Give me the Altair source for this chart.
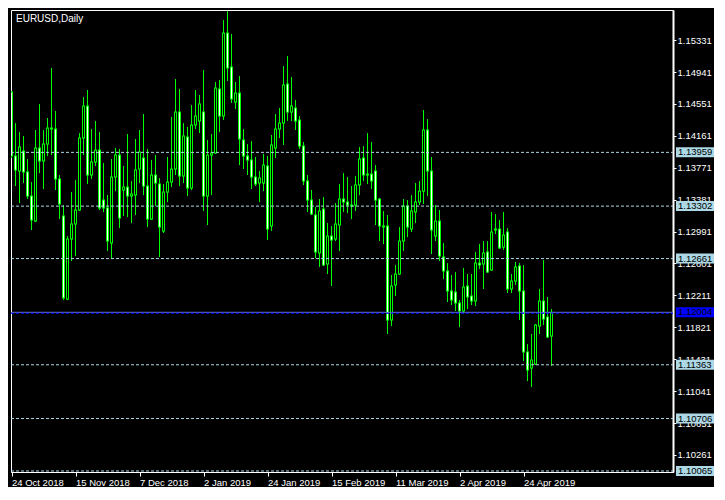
import altair as alt
import pandas as pd

# ---- data (EURUSD daily candles) ----
opens = [
    1.14696, 1.13914, 1.13731, 1.13975, 1.13719, 1.13425, 1.13120, 1.14012, 1.13853, 1.14061,
    1.14256, 1.14244, 1.13633, 1.13181, 1.12166, 1.12900, 1.13083, 1.13254, 1.14134, 1.14525,
    1.13682, 1.13841, 1.13987, 1.13376, 1.13279, 1.12851, 1.13657, 1.13926, 1.13499, 1.13535,
    1.13425, 1.13437, 1.13755, 1.13890, 1.13547, 1.13144, 1.13682, 1.13572, 1.12997, 1.13474,
    1.13596, 1.13755, 1.14452, 1.13670, 1.14146, 1.13523, 1.14293, 1.14342, 1.14452, 1.13425,
    1.13926, 1.13951, 1.14733, 1.14403, 1.15417, 1.15002, 1.14574, 1.14684, 1.14110, 1.13914,
    1.13865, 1.13657, 1.13584, 1.13584, 1.13792, 1.13059, 1.14012, 1.14244, 1.14317, 1.14794,
    1.14452, 1.14501, 1.14354, 1.14036, 1.13609, 1.13376, 1.13193, 1.12729, 1.13266, 1.12594,
    1.12936, 1.12900, 1.13071, 1.13389, 1.13352, 1.13315, 1.13315, 1.13560, 1.13890, 1.13682,
    1.13694, 1.13731, 1.13389, 1.13059, 1.13059, 1.11910, 1.12338, 1.12472, 1.12875, 1.13303,
    1.13022, 1.13230, 1.13352, 1.13486, 1.14232, 1.13731, 1.12936, 1.13120, 1.12680, 1.12509,
    1.12264, 1.12252, 1.12118, 1.12020, 1.12325, 1.12203, 1.12142, 1.12606, 1.12594, 1.12741,
    1.12521, 1.13010, 1.13022, 1.12802, 1.12985, 1.12289, 1.12386, 1.12570, 1.12264, 1.11519,
    1.11323, 1.11372, 1.11836, 1.12142, 1.11946, 1.11714,
]
highs = [
    1.14709, 1.14317, 1.14207, 1.14159, 1.13877, 1.13596, 1.14232, 1.14550, 1.14232, 1.14379,
    1.14990, 1.14464, 1.13682, 1.13315, 1.12936, 1.13474, 1.13621, 1.14195, 1.14635, 1.14721,
    1.14244, 1.14342, 1.14207, 1.13829, 1.13437, 1.13877, 1.14012, 1.14000, 1.13792, 1.14183,
    1.13609, 1.14122, 1.14232, 1.14427, 1.14000, 1.13865, 1.13926, 1.13645, 1.13572, 1.13902,
    1.14391, 1.14855, 1.14733, 1.14317, 1.14269, 1.14537, 1.14721, 1.14660, 1.14965, 1.14110,
    1.14183, 1.14819, 1.14843, 1.15576, 1.15686, 1.15405, 1.14819, 1.14892, 1.14244, 1.14061,
    1.14097, 1.13902, 1.13731, 1.13939, 1.13914, 1.14171, 1.14427, 1.14501, 1.15014, 1.15136,
    1.14880, 1.14599, 1.14403, 1.14085, 1.13682, 1.13499, 1.13291, 1.13389, 1.13413, 1.13095,
    1.13059, 1.13340, 1.13572, 1.13706, 1.13657, 1.13547, 1.13670, 1.14024, 1.14036, 1.14195,
    1.14085, 1.13804, 1.13401, 1.13242, 1.13193, 1.12460, 1.12582, 1.13046, 1.13389, 1.13376,
    1.13437, 1.13584, 1.13609, 1.14476, 1.14366, 1.13902, 1.13315, 1.13254, 1.12851, 1.12606,
    1.12460, 1.12496, 1.12154, 1.12545, 1.12472, 1.12472, 1.12741, 1.12839, 1.12875, 1.12875,
    1.13230, 1.13205, 1.13132, 1.13230, 1.13034, 1.12472, 1.12619, 1.12606, 1.12582, 1.11616,
    1.11739, 1.11861, 1.12289, 1.12643, 1.12191, 1.12044,
]
lows = [
    1.13890, 1.13547, 1.13340, 1.13584, 1.13389, 1.13010, 1.13107, 1.13706, 1.13511, 1.13914,
    1.13926, 1.13499, 1.13144, 1.12154, 1.12154, 1.12631, 1.12692, 1.13242, 1.13926, 1.13572,
    1.13633, 1.13792, 1.13254, 1.13230, 1.12753, 1.12655, 1.13486, 1.13034, 1.13181, 1.13169,
    1.13095, 1.13193, 1.13584, 1.13437, 1.13046, 1.13132, 1.13303, 1.12680, 1.12973, 1.13352,
    1.13535, 1.13682, 1.13547, 1.13584, 1.13425, 1.13499, 1.14244, 1.14195, 1.13242, 1.13071,
    1.13437, 1.13939, 1.14207, 1.14354, 1.14831, 1.14562, 1.14489, 1.13804, 1.13755, 1.13682,
    1.13511, 1.13547, 1.13352, 1.13486, 1.12887, 1.12997, 1.13890, 1.14134, 1.14049, 1.14342,
    1.14342, 1.14232, 1.14000, 1.13560, 1.13230, 1.13193, 1.12667, 1.12558, 1.12570, 1.12472,
    1.12325, 1.12875, 1.12753, 1.13230, 1.13217, 1.13144, 1.13242, 1.13437, 1.13609, 1.13572,
    1.13511, 1.13071, 1.12875, 1.12839, 1.11739, 1.11836, 1.12203, 1.12460, 1.12753, 1.12924,
    1.12985, 1.13095, 1.13315, 1.13327, 1.13425, 1.12716, 1.12875, 1.12631, 1.12411, 1.12130,
    1.12093, 1.12020, 1.11824, 1.11983, 1.12044, 1.12093, 1.12081, 1.12533, 1.12289, 1.12484,
    1.12509, 1.12961, 1.12777, 1.12765, 1.12240, 1.12240, 1.12338, 1.11910, 1.11409, 1.11164,
    1.11091, 1.11360, 1.11739, 1.11849, 1.11690, 1.11348,
]
closes = [
    1.13914, 1.13743, 1.14024, 1.13719, 1.13425, 1.13132, 1.14012, 1.13853, 1.14061, 1.14256,
    1.14244, 1.13633, 1.13327, 1.12179, 1.12900, 1.13083, 1.13254, 1.14134, 1.14525, 1.13682,
    1.13841, 1.13987, 1.13279, 1.13279, 1.12875, 1.13657, 1.13926, 1.13156, 1.13535, 1.13425,
    1.13450, 1.13743, 1.13963, 1.13547, 1.13144, 1.13682, 1.13584, 1.13046, 1.13474, 1.13596,
    1.13755, 1.14452, 1.13670, 1.14159, 1.13523, 1.14293, 1.14403, 1.14550, 1.13425, 1.13926,
    1.13951, 1.14745, 1.14403, 1.15417, 1.14990, 1.14611, 1.14684, 1.14122, 1.13914, 1.13865,
    1.13657, 1.13572, 1.13645, 1.13804, 1.13022, 1.14049, 1.14244, 1.14317, 1.14782, 1.14452,
    1.14525, 1.14342, 1.14036, 1.13609, 1.13376, 1.13205, 1.12741, 1.13242, 1.12582, 1.12936,
    1.12887, 1.13083, 1.13389, 1.13352, 1.13315, 1.13303, 1.13560, 1.13877, 1.13682, 1.13694,
    1.13609, 1.13376, 1.13059, 1.13046, 1.11910, 1.12325, 1.12472, 1.12875, 1.13303, 1.13046,
    1.13242, 1.13352, 1.13486, 1.14232, 1.13731, 1.13010, 1.13120, 1.12692, 1.12509, 1.12264,
    1.12154, 1.12118, 1.12020, 1.12313, 1.12191, 1.12142, 1.12606, 1.12582, 1.12729, 1.12496,
    1.12985, 1.13022, 1.12790, 1.12949, 1.12289, 1.12386, 1.12558, 1.12264, 1.11519, 1.11299,
    1.11421, 1.11849, 1.12142, 1.11922, 1.11702, 1.12004,
]

date_tick_bars = [0, 16, 32, 48, 64, 80, 96, 112, 128]
date_tick_labels = ["24 Oct 2018", "15 Nov 2018", "7 Dec 2018", "2 Jan 2019", "24 Jan 2019",
                    "15 Feb 2019", "11 Mar 2019", "2 Apr 2019", "24 Apr 2019"]
price_ticks = [1.15331, 1.14941, 1.14551, 1.14161, 1.13771, 1.13381, 1.12991, 1.12601,
               1.12211, 1.11821, 1.11431, 1.11041, 1.10651, 1.10261]
level_prices = [1.13959, 1.13302, 1.12661, 1.11363, 1.10706, 1.10065]
bid_price = [1.12004]
chart_title = ["EURUSD,Daily"]

# ---- layout ----
W, H = 662, 462
PX_PER_UNIT = 8182.0
Y_TOP = 1.15699
FONT = "Liberation Sans"
GREEN = "#00FF00"
LIGHT = "#ADD8E6"

n = len(opens)
df = pd.DataFrame({"bar": list(range(n)), "open": opens, "high": highs,
                   "low": lows, "close": closes})

xs = alt.Scale(domain=[-0.125, W / 4.0 - 0.125], nice=False, zero=False, padding=0)
ys = alt.Scale(domain=[Y_TOP - H / PX_PER_UNIT, Y_TOP], nice=False, zero=False, padding=0)

label_expr = " : ".join(
    f"datum.value == {b} ? '{t}'" for b, t in zip(date_tick_bars, date_tick_labels)
) + " : ''"

x_axis = alt.Axis(orient="bottom", values=date_tick_bars, labelExpr=label_expr,
                  labelAlign="left", labelBaseline="top", tickSize=4, labelPadding=1,
                  labelFlush=False, labelOverlap=False, title="", grid=False)
y_axis = alt.Axis(orient="right", values=price_ticks, format=".5f", tickSize=3,
                  labelPadding=1, labelFlush=False, labelOverlap=False, title="",
                  grid=False, domainWidth=2)


def X(field):
    return alt.X(field, scale=xs, axis=x_axis)


def Y(field):
    return alt.Y(field, scale=ys, axis=y_axis)


base = alt.Chart(df).transform_calculate(
    top="max(datum.open, datum.close)",
    bottom="min(datum.open, datum.close)",
)

wicks = base.mark_rule(color=GREEN, strokeWidth=1, clip=True).encode(
    x=X("bar:Q"), y=Y("low:Q"), y2="high:Q",
)

# body outline: a 3px green stroke one pixel taller than the body
body_outer = base.mark_rule(color=GREEN, strokeWidth=3, strokeCap="butt", clip=True,
                            yOffset=-0.5, y2Offset=0.5).encode(
    x=X("bar:Q"), y=Y("top:Q"), y2="bottom:Q",
)
# body interior: white for falling days, black for rising days
inner_bear = base.transform_filter(
    f"datum.close < datum.open && (datum.open - datum.close) * {PX_PER_UNIT} > 1.5"
).mark_rule(color="#FFFFFF", strokeWidth=1, strokeCap="butt", clip=True,
            yOffset=0.5, y2Offset=-0.5).encode(
    x=X("bar:Q"), y=Y("top:Q"), y2="bottom:Q",
)
inner_bull = base.transform_filter(
    f"datum.close > datum.open && (datum.close - datum.open) * {PX_PER_UNIT} > 1.5"
).mark_rule(color="#000000", strokeWidth=1, strokeCap="butt", clip=True,
            yOffset=0.5, y2Offset=-0.5).encode(
    x=X("bar:Q"), y=Y("top:Q"), y2="bottom:Q",
)

lv = pd.DataFrame({"level": level_prices})
levels = alt.Chart(lv).mark_rule(color=LIGHT, strokeWidth=1, strokeDash=[3, 2]).encode(
    y=Y("level:Q"), x=alt.value(0), x2=alt.value(W),
)
level_boxes = alt.Chart(lv).mark_rect(color=LIGHT, yOffset=-5, y2Offset=5).encode(
    y=Y("level:Q"), y2="level:Q", x=alt.value(W + 3), x2=alt.value(W + 41),
)
level_text = alt.Chart(lv).mark_text(align="left", baseline="middle", font=FONT,
                                     fontSize=9.5, color="black").encode(
    y=Y("level:Q"), x=alt.value(W + 5), text=alt.Text("level:Q", format=".5f"),
)

bd = pd.DataFrame({"bid": bid_price})
bid_line = alt.Chart(bd).mark_rule(color="#6070E0", strokeWidth=1).encode(
    y=Y("bid:Q"), x=alt.value(0), x2=alt.value(W),
)
bid_dash = alt.Chart(bd).mark_rule(color="#0000FF", strokeWidth=1, strokeDash=[3, 2],
                                   yOffset=1).encode(
    y=Y("bid:Q"), x=alt.value(0), x2=alt.value(W),
)
bid_box = alt.Chart(bd).mark_rect(color="#0000FF", yOffset=-5, y2Offset=5).encode(
    y=Y("bid:Q"), y2="bid:Q", x=alt.value(W + 3), x2=alt.value(W + 41),
)
bid_text = alt.Chart(bd).mark_text(align="left", baseline="middle", font=FONT,
                                   fontSize=9.5, color="black").encode(
    y=Y("bid:Q"), x=alt.value(W + 5), text=alt.Text("bid:Q", format=".5f"),
)

title = alt.Chart(pd.DataFrame({"t": chart_title})).mark_text(
    align="left", baseline="middle", font=FONT, fontSize=10, color="white").encode(
    text="t:N", x=alt.value(5), y=alt.value(8.5),
)

chart = alt.layer(
    wicks, body_outer, inner_bear, inner_bull, levels, bid_line, bid_dash,
    level_boxes, level_text, bid_box, bid_text, title,
).properties(
    width=W, height=H, background="black",
    padding={"left": 2, "top": 2, "right": 0, "bottom": 0},
).configure_view(
    stroke="white", strokeWidth=1, fill="black"
).configure_axis(
    domainColor="white", tickColor="white", labelColor="white",
    labelFont=FONT, labelFontSize=9.5, grid=False,
)

chart.save("out.html", embed_options={"renderer": "svg", "actions": False})
